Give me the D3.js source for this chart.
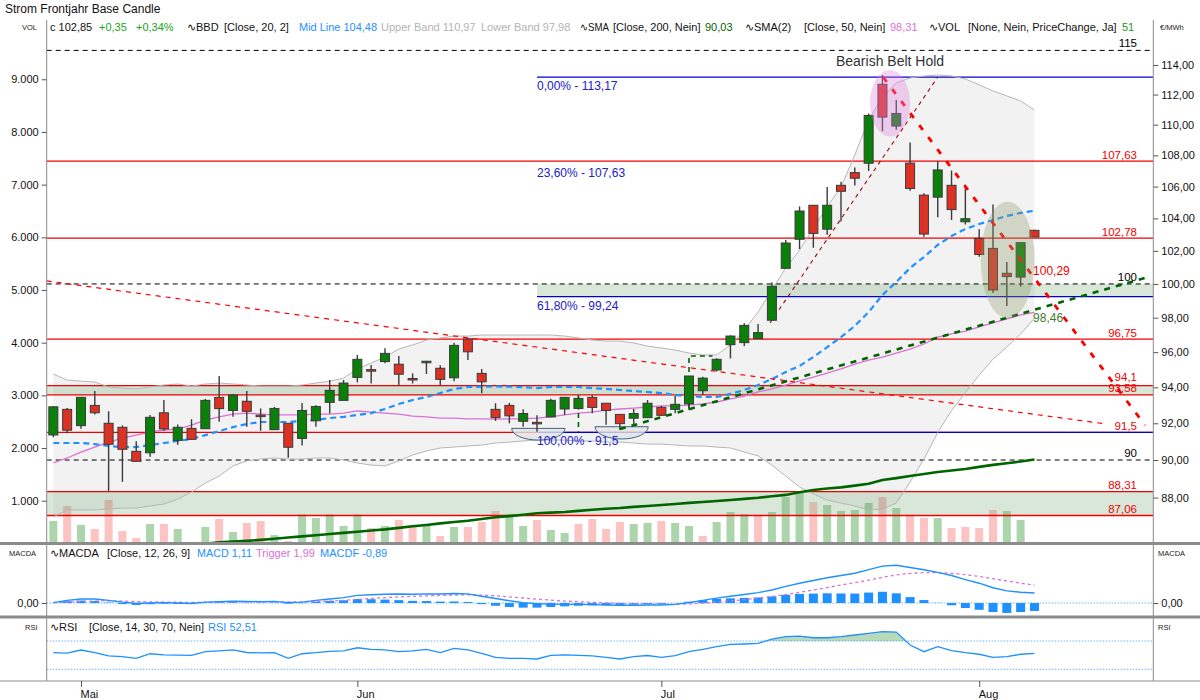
<!DOCTYPE html>
<html>
<head>
<meta charset="utf-8">
<script src="https://cdn.jsdelivr.net/npm/d3@7/dist/d3.min.js"></script>
<style>
  body { margin: 0; background: #fff; }
  svg text { font-family: "Liberation Sans", Arial, sans-serif; }
</style>
</head>
<body>
<script>
// DATA (one entry per trading day)
var opens = [91.36,92.77,91.87,92.99,92.00,91.78,90.47,90.39,92.58,91.06,
  91.72,91.70,93.44,92.71,93.22,92.45,91.65,92.00,91.17,92.14,
  93.16,93.27,94.56,95.00,95.46,95.31,94.50,95.45,95.08,94.54,
  96.76,94.79,92.77,92.99,92.11,92.05,92.35,92.79,92.82,93.44,
  93.11,92.49,92.28,92.31,92.88,92.77,93.07,93.81,94.98,96.43,
  96.55,96.78,97.85,100.94,102.71,104.82,103.33,106.08,106.89,107.49,
  112.69,109.91,107.50,105.46,105.33,106.08,103.79,102.77,102.15,100.64,
  100.41,103.26];
var highs = [92.95,92.84,93.46,93.79,92.66,91.88,91.01,92.46,93.29,91.93,
  92.22,93.35,94.64,93.60,93.79,92.82,92.90,92.02,93.13,93.00,
  94.41,94.41,95.84,95.27,96.22,95.78,94.79,95.50,95.25,96.54,
  96.83,95.04,93.11,93.13,92.77,92.44,93.36,93.44,93.50,93.55,
  93.11,92.50,92.79,93.29,92.96,93.51,94.64,94.60,95.65,96.97,
  97.67,97.63,100.08,102.67,104.75,104.82,105.97,106.31,107.21,110.74,
  113.32,111.64,108.83,105.57,107.64,107.02,105.99,103.33,104.87,101.32,
  102.50,103.30];
var lows = [91.23,91.45,91.70,92.49,88.35,88.84,89.90,90.18,91.59,90.83,
  91.10,91.68,92.09,92.36,91.81,91.59,91.65,90.12,90.78,91.81,
  92.54,93.27,94.28,94.22,95.36,94.13,94.22,94.75,94.13,94.35,
  95.55,93.67,92.13,92.00,91.81,91.54,92.35,92.46,92.75,92.56,
  91.92,91.63,91.94,92.31,92.40,92.56,92.73,93.57,94.90,95.64,
  96.36,96.78,97.85,100.94,102.11,102.19,102.98,103.80,106.07,107.00,
  109.56,109.67,105.73,102.86,104.07,103.90,103.62,101.64,99.48,98.69,
  99.84,102.85];
var closes = [92.91,91.62,93.44,92.58,90.85,90.58,89.93,92.33,91.69,91.78,
  91.12,93.27,92.81,93.57,92.66,92.42,92.82,90.69,92.71,92.93,
  93.83,94.24,95.59,94.98,95.93,94.74,94.49,95.48,94.45,96.39,
  96.02,94.31,92.31,92.41,92.54,92.03,93.27,93.44,93.38,92.88,
  92.71,91.98,92.54,93.11,92.44,93.05,94.64,94.52,95.59,96.93,
  97.55,97.13,99.86,102.48,104.46,103.07,104.82,105.70,106.53,110.61,
  110.50,110.74,105.88,103.03,107.06,104.55,103.98,101.78,99.64,100.44,
  102.50,102.85];
var volumes = [615,900,539,463,1014,425,292,558,558,463,
  120,501,653,406,577,615,349,235,740,672,
  740,520,740,482,520,634,520,539,330,501,
  501,596,805,740,520,634,444,387,558,653,
  463,596,558,577,615,577,520,330,596,786,
  748,729,786,1070,1165,976,919,805,824,957,
  1070,862,729,672,672,482,501,482,824,805,
  634,51];
var bbUpper = [94.75,94.41,94.35,94.30,94.02,93.96,93.91,94.02,94.13,94.19,
  94.07,94.19,94.24,94.19,94.13,94.07,94.07,94.07,94.13,94.24,
  94.35,94.52,95.04,95.38,95.72,96.18,96.41,96.70,96.82,96.93,
  96.93,96.99,96.99,96.99,96.99,96.99,96.99,96.93,96.82,96.70,
  96.64,96.64,96.53,96.35,96.24,96.12,95.95,95.84,95.84,96.41,
  97.28,98.33,99.64,100.96,102.05,103.40,104.72,105.97,108.03,110.31,
  111.84,112.78,113.12,113.25,113.32,113.25,113.05,112.65,112.24,111.91,
  111.57,110.97];
var bbMid = [90.92,90.92,90.92,90.86,90.76,90.70,90.70,90.81,90.92,91.03,
  91.14,91.35,91.57,91.79,91.96,92.07,92.07,92.07,92.13,92.18,
  92.29,92.35,92.46,92.56,92.79,93.07,93.29,93.46,93.68,93.91,
  94.02,94.04,94.05,94.04,94.01,93.96,94.02,94.02,94.02,93.96,
  93.91,93.85,93.79,93.74,93.68,93.57,93.51,93.46,93.46,93.63,
  93.85,94.13,94.47,94.87,95.21,95.72,96.29,96.87,97.52,98.33,
  99.34,100.12,100.96,101.62,102.36,102.91,103.34,103.65,103.90,104.15,
  104.34,104.48];
var bbLower = [86.99,87.35,87.35,87.35,87.40,87.45,87.45,87.56,87.66,87.92,
  88.29,88.77,89.14,89.68,89.95,90.05,90.11,90.05,90.05,90.11,
  90.11,90.00,89.84,89.73,89.68,89.95,90.27,90.49,90.65,90.70,
  90.76,90.81,90.92,90.97,91.03,91.08,91.08,91.08,91.03,91.03,
  90.97,90.97,90.92,90.86,90.86,90.81,90.76,90.76,90.70,90.65,
  90.43,90.22,89.73,89.14,88.56,88.19,87.87,87.71,87.56,87.35,
  87.40,87.71,88.82,90.05,91.50,92.70,93.70,94.70,95.60,96.30,
  97.05,97.98];
var sma200 = [84.98,85.02,85.09,85.13,85.21,85.24,85.31,85.35,85.43,85.47,
  85.55,85.60,85.68,85.71,85.75,85.80,85.86,85.92,85.98,86.04,
  86.10,86.16,86.22,86.28,86.34,86.42,86.50,86.57,86.65,86.72,
  86.79,86.88,86.97,87.03,87.10,87.18,87.21,87.24,87.30,87.36,
  87.41,87.45,87.51,87.56,87.61,87.66,87.72,87.77,87.82,87.87,
  87.93,87.99,88.07,88.14,88.28,88.40,88.48,88.54,88.63,88.73,
  88.93,89.03,89.14,89.25,89.36,89.44,89.52,89.63,89.74,89.83,
  89.92,90.03];
var sma50 = [89.84,90.11,90.43,90.70,90.97,91.19,91.35,91.52,91.63,91.68,
  91.90,92.18,92.35,92.51,92.56,92.51,92.46,92.46,92.46,92.51,
  92.51,92.56,92.68,92.62,92.56,92.51,92.40,92.35,92.29,92.29,
  92.24,92.24,92.23,92.24,92.25,92.29,92.35,92.46,92.56,92.62,
  92.73,92.79,92.84,92.90,92.96,92.97,93.01,93.07,93.18,93.35,
  93.51,93.74,93.91,94.13,94.36,94.58,94.81,95.04,95.32,95.55,
  95.72,95.95,96.18,96.47,96.87,97.05,97.22,97.46,97.69,97.93,
  98.16,98.31];
var macd = [0.05,0.30,0.45,0.45,0.30,0.10,-0.05,0.00,0.05,0.00,
  -0.05,0.10,0.15,0.20,0.18,0.15,0.18,0.05,0.10,0.30,
  0.45,0.60,0.85,0.92,0.98,1.00,0.98,1.02,1.00,1.05,
  1.02,0.75,0.50,0.25,0.05,-0.08,-0.12,-0.15,-0.15,-0.18,
  -0.22,-0.25,-0.25,-0.22,-0.22,-0.15,0.05,0.30,0.55,0.75,
  0.95,1.15,1.45,1.85,2.20,2.50,2.80,3.05,3.30,3.70,
  4.10,4.20,3.95,3.70,3.40,3.05,2.60,2.20,1.70,1.35,
  1.20,1.11];
var trigger = [0.05,0.10,0.17,0.23,0.25,0.22,0.16,0.13,0.11,0.09,
  0.06,0.07,0.09,0.11,0.13,0.13,0.14,0.12,0.12,0.15,
  0.21,0.29,0.40,0.50,0.60,0.68,0.74,0.80,0.84,0.88,
  0.91,0.88,0.80,0.69,0.56,0.43,0.32,0.22,0.15,0.08,
  0.02,-0.04,-0.08,-0.11,-0.13,-0.14,-0.10,-0.02,0.10,0.23,
  0.38,0.53,0.72,0.94,1.19,1.45,1.72,1.99,2.25,2.54,
  2.85,3.12,3.29,3.37,3.38,3.30,3.15,2.95,2.70,2.45,
  2.20,1.99];
var macdf = [0.00,0.20,0.28,0.22,0.05,-0.12,-0.21,-0.13,-0.06,-0.09,
  -0.11,0.03,0.06,0.09,0.05,0.02,0.04,-0.07,-0.02,0.15,
  0.24,0.31,0.45,0.42,0.38,0.32,0.24,0.22,0.16,0.17,
  0.11,-0.13,-0.30,-0.44,-0.51,-0.51,-0.44,-0.37,-0.30,-0.26,
  -0.24,-0.21,-0.17,-0.11,-0.09,-0.01,0.15,0.32,0.45,0.52,
  0.57,0.62,0.73,0.91,1.01,1.05,1.08,1.06,1.05,1.16,
  1.25,1.08,0.66,0.33,0.02,-0.25,-0.55,-0.75,-1.00,-1.10,
  -1.00,-0.88];
var rsi = [53.5,53.0,57.3,53.5,49.0,47.8,45.5,52.0,50.5,50.0,
  49.6,54.9,56.0,57.5,53.8,53.2,53.6,45.5,52.0,53.5,
  55.5,56.0,60.5,58.2,57.5,54.9,56.0,58.2,53.5,59.7,
  57.5,52.6,47.0,45.5,45.5,44.6,49.8,50.3,49.6,48.9,
  47.0,44.6,47.8,49.5,47.0,49.5,54.9,58.2,62.0,65.3,
  65.8,66.7,72.8,76.1,77.0,74.6,74.6,76.1,78.5,80.8,
  83.2,82.7,64.4,54.9,62.0,56.4,53.5,51.3,47.0,47.8,
  51.3,52.51];

// axis ticks
var monthIdx = [2, 22, 44, 67];
var monthLabels = ["Mai", "Jun", "Jul", "Aug"];
var priceTicks = [88, 90, 92, 94, 96, 98, 100, 102, 104, 106, 108, 110, 112, 114];
var volTicks = [1000, 2000, 3000, 4000, 5000, 6000, 7000, 8000, 9000];

// drawn levels and annotations (index, price)
var redLevels = [107.63, 102.78, 96.75, 94.1, 93.58, 91.5, 88.31, 87.06];
var redLabels = ["107,63", "102,78", "96,75", "94,1", "93,58", "91,5", "88,31", "87,06"];
var dashLevels = [115, 100, 90];
var dashLabels = ["115", "100", "90"];
var bands = [[93.58, 94.1], [87.06, 88.31]];
var fibLevels = [113.17, 107.63, 99.24, 91.5];
var fibLabels = ["0,00% - 113,17", "23,60% - 107,63", "61,80% - 99,24", "100,00% - 91,5"];
var fibDrawn = [true, false, true, true];
var fibStart = 35;
var fibBand = [99.24, 100];
var trendLong = [[-0.48, 100.18], [76.2, 91.96]];
var trendUp = [[51.86, 97.69], [64.0, 113.17]];
var trendDown = [[60.05, 113.17], [79.0, 91.90]];
var trendGreen = [[41.0, 91.68], [79.0, 100.36]];
var flagA = [[38, 93.57], [38, 91.54]];
var flagB = [[46, 92.84], [46, 95.78], [47.7, 95.78]];
var bowls = [[33.17, 37.03, 91.72, 91.08], [39.2, 43.05, 91.81, 91.14]];
var pinkOval = [60.55, 1.45, 113.66, 109.22];
var greyOval = [69.06, 1.95, 105.04, 97.97];

// SETUP
var L = 46.7, R = 1153.3;
var svg = d3.select("body").append("svg").attr("width", 1200).attr("height", 700);
var idx = d3.range(closes.length);

var x = d3.scaleLinear().domain([-0.48, 79.6]).range([L, R]);
var y = d3.scaleLog().domain([85.64, 117.25]).range([543, 18]);
var yVol = d3.scaleLinear().domain([0, 10000]).range([553.4, 26.6]);
var yMacd = d3.scaleLinear().domain([-1.44, 6.33]).range([616, 546]);
var yRsi = d3.scaleLinear().domain([14.9, 100]).range([680, 619.8]);

var defs = svg.append("defs");
function clip(id, y0, h) {
  defs.append("clipPath").attr("id", id).append("rect")
    .attr("x", L).attr("y", y0).attr("width", R - L).attr("height", h);
}
clip("cMain", 19, 523);
clip("cMacd", 545, 71);
clip("cRsi", 619, 61);
clip("cRsiTop", 619, yRsi(70) - 619);

var gMain = svg.append("g").attr("clip-path", "url(#cMain)");

// volume bars
gMain.selectAll("rect.vol").data(idx).enter().append("rect")
  .attr("x", function (i) { return x(i) - 4; })
  .attr("width", 8)
  .attr("y", function (i) { return yVol(volumes[i]); })
  .attr("height", function (i) { return yVol(0) - yVol(volumes[i]); })
  .attr("fill", function (i) {
    return (i === 0 || closes[i] >= closes[i - 1]) ? "#acd5ac" : "#fcc3c3";
  });

// bollinger band fill
gMain.append("path").datum(idx)
  .attr("d", d3.area()
    .x(function (i) { return x(i); })
    .y0(function (i) { return y(bbLower[i]); })
    .y1(function (i) { return y(bbUpper[i]); }))
  .attr("fill", "#000").attr("fill-opacity", 0.05);

// green zones
gMain.selectAll("rect.band").data(bands).enter().append("rect")
  .attr("x", L).attr("width", R - L)
  .attr("y", function (d) { return y(d[1]); })
  .attr("height", function (d) { return y(d[0]) - y(d[1]); })
  .attr("fill", "#7fae7f").attr("fill-opacity", 0.3);
gMain.append("rect")
  .attr("x", x(fibStart)).attr("width", R - x(fibStart))
  .attr("y", y(fibBand[1])).attr("height", y(fibBand[0]) - y(fibBand[1]))
  .attr("fill", "#7fae7f").attr("fill-opacity", 0.3);

// horizontal levels
gMain.selectAll("line.red").data(redLevels).enter().append("line")
  .attr("x1", L).attr("x2", R)
  .attr("y1", function (d) { return y(d); }).attr("y2", function (d) { return y(d); })
  .attr("stroke", "#f00000").attr("stroke-width", 1.3);
gMain.selectAll("line.dash").data(dashLevels).enter().append("line")
  .attr("x1", L).attr("x2", R)
  .attr("y1", function (d) { return y(d); }).attr("y2", function (d) { return y(d); })
  .attr("stroke", "#000").attr("stroke-width", 1).attr("stroke-dasharray", "5,4");
gMain.selectAll("line.fib").data(fibLevels.filter(function (d, k) { return fibDrawn[k]; }))
  .enter().append("line")
  .attr("x1", x(fibStart)).attr("x2", R)
  .attr("y1", function (d) { return y(d); }).attr("y2", function (d) { return y(d); })
  .attr("stroke", "#0000d0").attr("stroke-width", 1.2);

// indicator lines
function priceLine(arr) {
  return d3.line().x(function (i) { return x(i); }).y(function (i) { return y(arr[i]); })(idx);
}
gMain.append("path").attr("d", priceLine(bbUpper)).attr("fill", "none").attr("stroke", "#b6b6b6").attr("stroke-width", 1);
gMain.append("path").attr("d", priceLine(bbLower)).attr("fill", "none").attr("stroke", "#b6b6b6").attr("stroke-width", 1);
gMain.append("path").attr("d", priceLine(sma200)).attr("fill", "none").attr("stroke", "#006400").attr("stroke-width", 2.6);
gMain.append("path").attr("d", priceLine(sma50)).attr("fill", "none").attr("stroke", "#da70d6").attr("stroke-width", 1.3);
gMain.append("path").attr("d", priceLine(bbMid)).attr("fill", "none").attr("stroke", "#1e90ff")
  .attr("stroke-width", 2.2).attr("stroke-dasharray", "6,4");

// rounding bottoms
gMain.selectAll("path.bowl").data(bowls).enter().append("path")
  .attr("d", function (b) {
    var x1 = x(b[0]), x2 = x(b[1]), yt = y(b[2]), yb = y(b[3]);
    return "M" + x1 + "," + yt + " A" + ((x2 - x1) / 2) + "," + (yb - yt) + " 0 0 0 " + x2 + "," + yt + " Z";
  })
  .attr("fill", "#e4e4e4").attr("fill-opacity", 0.8).attr("stroke", "#3d6585").attr("stroke-width", 1);

// trend lines under candles
var seg = d3.line().x(function (d) { return x(d[0]); }).y(function (d) { return y(d[1]); });
gMain.append("path").attr("d", seg(trendLong)).attr("fill", "none")
  .attr("stroke", "#f00").attr("stroke-width", 1.2).attr("stroke-dasharray", "5,5");
gMain.append("path").attr("d", seg(trendUp)).attr("fill", "none")
  .attr("stroke", "#a00000").attr("stroke-width", 1.1).attr("stroke-dasharray", "4,4");
gMain.append("path").attr("d", seg(flagA)).attr("fill", "none")
  .attr("stroke", "#006400").attr("stroke-width", 1.6).attr("stroke-dasharray", "5,4");
gMain.append("path").attr("d", seg(flagB)).attr("fill", "none")
  .attr("stroke", "#006400").attr("stroke-width", 1.6).attr("stroke-dasharray", "5,4");

// candles
var gc = gMain.selectAll("g.candle").data(idx).enter().append("g");
gc.append("line")
  .attr("x1", function (i) { return x(i); }).attr("x2", function (i) { return x(i); })
  .attr("y1", function (i) { return y(highs[i]); }).attr("y2", function (i) { return y(lows[i]); })
  .attr("stroke", "#3a3a3a").attr("stroke-width", 1.4);
gc.append("rect")
  .attr("x", function (i) { return x(i) - 4.5; })
  .attr("width", 9)
  .attr("y", function (i) { return y(Math.max(opens[i], closes[i])); })
  .attr("height", function (i) {
    return Math.max(1.5, y(Math.min(opens[i], closes[i])) - y(Math.max(opens[i], closes[i])));
  })
  .attr("fill", function (i) { return closes[i] >= opens[i] ? "#0a7f0a" : "#dc3224"; })
  .attr("stroke", "#3a3a3a").attr("stroke-width", 1);

// trend lines over candles
gMain.append("path").attr("d", seg(trendGreen)).attr("fill", "none")
  .attr("stroke", "#006400").attr("stroke-width", 2.6).attr("stroke-dasharray", "6,6");
gMain.append("path").attr("d", seg(trendDown)).attr("fill", "none")
  .attr("stroke", "#f00").attr("stroke-width", 2.8).attr("stroke-dasharray", "6,9");

// pattern ovals
function oval(o, col, op) {
  var yt = y(o[2]), yb = y(o[3]);
  gMain.append("ellipse")
    .attr("cx", x(o[0])).attr("cy", (yt + yb) / 2)
    .attr("rx", x(o[1]) - x(0)).attr("ry", (yb - yt) / 2)
    .attr("fill", col).attr("fill-opacity", op);
}
oval(pinkOval, "#e080e0", 0.35);
oval(greyOval, "#8f9a6a", 0.33);

// level labels
var gLab = svg.append("g").style("font-size", "11.5px");
gLab.selectAll("text.red").data(redLevels).enter().append("text")
  .attr("x", 1137).attr("y", function (d) { return y(d) - (d === 94.1 ? 5 : 2.5); })
  .attr("text-anchor", "end").attr("fill", "#f00000")
  .text(function (d, k) { return redLabels[k]; });
gLab.selectAll("text.dash").data(dashLevels).enter().append("text")
  .attr("x", 1137).attr("y", function (d) { return y(d) - 3; })
  .attr("text-anchor", "end").attr("fill", "#000")
  .text(function (d, k) { return dashLabels[k]; });
gLab.selectAll("text.fib").data(fibLevels).enter().append("text")
  .attr("x", x(fibStart)).attr("y", function (d, k) { return y(d) + (k === 1 ? 16 : 13); })
  .attr("fill", "#2020c8").style("font-size", "12px")
  .text(function (d, k) { return fibLabels[k]; });
gLab.append("text").attr("x", x(70.9)).attr("y", y(100.47) - 1)
  .attr("fill", "#f00000").style("font-size", "12px").text("100,29");
gLab.append("text").attr("x", x(70.9)).attr("y", y(98.44) + 12)
  .attr("fill", "#3f7a2a").style("font-size", "12px").text("98,46");
gLab.append("text").attr("x", x(pinkOval[0])).attr("y", y(pinkOval[2]) - 4)
  .attr("text-anchor", "middle").attr("fill", "#333").style("font-size", "14px")
  .text("Bearish Belt Hold");

// MACD panel
var gM = svg.append("g").attr("clip-path", "url(#cMacd)");
gM.append("line").attr("x1", L).attr("x2", R).attr("y1", yMacd(0)).attr("y2", yMacd(0))
  .attr("stroke", "#1e90ff").attr("stroke-dasharray", "1,2");
gM.selectAll("rect").data(idx).enter().append("rect")
  .attr("x", function (i) { return x(i) - 4.5; }).attr("width", 9)
  .attr("y", function (i) { return Math.min(yMacd(0), yMacd(macdf[i])); })
  .attr("height", function (i) { return Math.abs(yMacd(macdf[i]) - yMacd(0)); })
  .attr("fill", "#1e90ff");
gM.append("path").attr("d", d3.line().x(function (i) { return x(i); }).y(function (i) { return yMacd(trigger[i]); })(idx))
  .attr("fill", "none").attr("stroke", "#da70d6").attr("stroke-width", 1.3).attr("stroke-dasharray", "3,3");
gM.append("path").attr("d", d3.line().x(function (i) { return x(i); }).y(function (i) { return yMacd(macd[i]); })(idx))
  .attr("fill", "none").attr("stroke", "#1e90ff").attr("stroke-width", 1.4);

// RSI panel
var gR = svg.append("g").attr("clip-path", "url(#cRsi)");
gR.append("g").attr("clip-path", "url(#cRsiTop)").append("path")
  .attr("d", d3.area().x(function (i) { return x(i); })
    .y0(yRsi(70)).y1(function (i) { return yRsi(rsi[i]); })(idx))
  .attr("fill", "#b8dab8");
[30, 70].forEach(function (v) {
  gR.append("line").attr("x1", L).attr("x2", R).attr("y1", yRsi(v)).attr("y2", yRsi(v))
    .attr("stroke", "#1e90ff").attr("stroke-dasharray", "1,2");
});
gR.append("path").attr("d", d3.line().x(function (i) { return x(i); }).y(function (i) { return yRsi(rsi[i]); })(idx))
  .attr("fill", "none").attr("stroke", "#1e90ff").attr("stroke-width", 1.3);

// frame
svg.append("line").attr("x1", L).attr("x2", L).attr("y1", 20).attr("y2", 681).attr("stroke", "#8a8a8a");
svg.append("line").attr("x1", R).attr("x2", R).attr("y1", 20).attr("y2", 681).attr("stroke", "#8a8a8a");
[543.5, 617].forEach(function (yy) {
  svg.append("line").attr("x1", 0).attr("x2", 1200).attr("y1", yy).attr("y2", yy)
    .attr("stroke", "#8c8c8c").attr("stroke-width", 3);
});
svg.append("line").attr("x1", 0).attr("x2", 1200).attr("y1", 681).attr("y2", 681).attr("stroke", "#8a8a8a");

// axes
function styleAxis(g) {
  g.select(".domain").remove();
  g.selectAll("text").style("font-size", "11px").attr("fill", "#111")
    .style("font-family", '"Liberation Sans", Arial, sans-serif');
  g.selectAll("line").attr("stroke", "#555");
}
var comma2 = function (d) { return d3.format(".2f")(d).replace(".", ","); };
svg.append("g").attr("transform", "translate(" + R + ",0)")
  .call(d3.axisRight(y).tickValues(priceTicks).tickFormat(comma2).tickSize(5).tickPadding(3))
  .call(styleAxis);
svg.append("g").attr("transform", "translate(" + L + ",0)")
  .call(d3.axisLeft(yVol).tickValues(volTicks)
    .tickFormat(function (d) { return d3.format(",")(d).replace(/,/g, "."); }).tickSize(5).tickPadding(3))
  .call(styleAxis);
svg.append("g").attr("transform", "translate(" + R + ",0)")
  .call(d3.axisRight(yMacd).tickValues([0]).tickFormat(comma2).tickSize(5).tickPadding(3))
  .call(styleAxis);
svg.append("g").attr("transform", "translate(" + L + ",0)")
  .call(d3.axisLeft(yMacd).tickValues([0]).tickFormat(comma2).tickSize(5).tickPadding(3))
  .call(styleAxis);
var gx = svg.append("g").attr("transform", "translate(0,681)")
  .call(d3.axisBottom(x).tickValues(monthIdx)
    .tickFormat(function (d, k) { return monthLabels[k]; }).tickSize(6).tickPadding(3))
  .call(styleAxis);
gx.selectAll("text").attr("text-anchor", "start").attr("dx", "-1");

// header texts: each piece starts where the reference has it, squeezed if it would run into the next
function txt(xx, yy, s, col, size) {
  return svg.append("text").attr("x", xx).attr("y", yy).attr("fill", col || "#111")
    .style("font-size", (size || 11) + "px").text(s);
}
function row(items, yy, endX) {
  items.forEach(function (h, k) {
    var t = txt(h[0], yy, h[1], h[2]);
    var room = (k < items.length - 1 ? items[k + 1][0] : endX) - h[0] - 4;
    if (t.node().getComputedTextLength() > room) {
      t.attr("textLength", room).attr("lengthAdjust", "spacingAndGlyphs");
    }
  });
}
txt(5, 13, "Strom Frontjahr Base Candle", "#111", 12);
txt(22, 30, "VOL", "#222", 7.5);
txt(1160, 30, "€/MWh", "#222", 7.5);
row([
  [50, "c 102,85", "#111"], [99, "+0,35", "#1aa51a"], [136, "+0,34%", "#1aa51a"],
  [187, "∿BBD", "#111"], [224, "[Close, 20, 2]", "#111"], [299, "Mid Line 104,48", "#1e90ff"],
  [381, "Upper Band 110,97", "#b4b4b4"], [481, "Lower Band 97,98", "#b4b4b4"],
  [580, "∿SMA", "#111"], [613, "[Close, 200, Nein]", "#111"], [705, "90,03", "#006400"],
  [745, "∿SMA(2)", "#111"], [804, "[Close, 50, Nein]", "#111"], [890, "98,31", "#da70d6"],
  [929, "∿VOL", "#111"], [968, "[None, Nein, PriceChange, Ja]", "#111"], [1122, "51", "#1a9a1a"]
], 31, 1150);

txt(9, 556, "MACDA", "#222", 7.5);
txt(1158, 556, "MACDA", "#222", 7.5);
row([[50, "∿MACDA", "#111"], [107, "[Close, 12, 26, 9]", "#111"], [197, "MACD 1,11", "#1e90ff"],
 [256, "Trigger 1,99", "#da70d6"], [320, "MACDF -0,89", "#1e90ff"]], 557, 400);

txt(25, 630, "RSI", "#222", 7.5);
txt(1158, 630, "RSI", "#222", 7.5);
row([[50, "∿RSI", "#111"], [89, "[Close, 14, 30, 70, Nein]", "#111"], [208, "RSI 52,51", "#1e90ff"]], 631, 270);
</script>
</body>
</html>
